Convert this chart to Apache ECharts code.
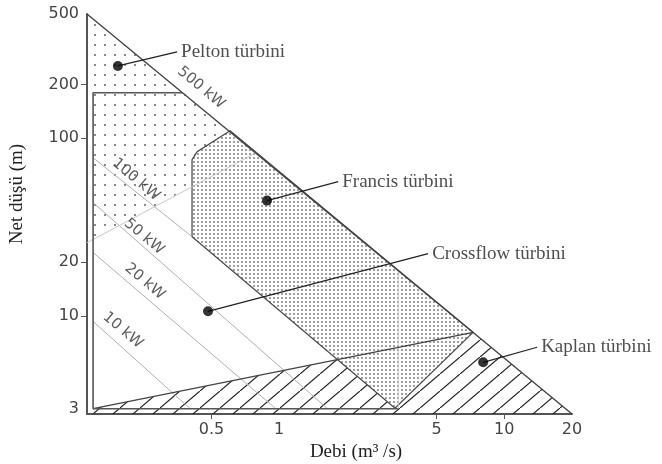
<!DOCTYPE html>
<html>
<head>
<meta charset="utf-8">
<title>Türbin seçim diyagramı</title>
<script src="https://cdn.jsdelivr.net/npm/echarts@6/dist/echarts.min.js"></script>
<style>
  html, body { margin: 0; padding: 0; background: #fff; }
  #chart { width: 662px; height: 464px; }
</style>
</head>
<body>
<div id="chart"></div>
<script>
// eksenler
const debiRange = [0.14, 20]
const dusuRange = [2.8, 500]
const debiTicks = [0.5, 1, 5, 10, 20]
const debiTickMarks = [0.5, 5, 10]
const dusuTicks = [3, 10, 20, 100, 200, 500]
const dusuTickMarks = [10, 20, 100, 200]

// bölgeler, noktalar [debi m3/s, düşü m]
const peltonArea = [[0.14, 500], [0.605, 110], [0.432, 83.9], [0.41, 75.6], [0.41, 53.3], [0.14, 25.8]]
const francisArea = [[0.605, 110], [7.27, 8.07], [3.27, 3.02], [0.41, 27.9], [0.41, 75.6], [0.432, 83.9]]
const kaplanArea = [[0.149, 3.0], [7.27, 8.07], [20, 2.8], [0.149, 2.8]]
const crossflowBox = [[3.38, 3.0], [0.149, 3.0], [0.149, 180], [0.374, 180]]
const crossflowRight = [[3.38, 18.0], [3.38, 3.0]]
const kaplanTop = [[0.149, 3.0], [7.27, 8.07]]
const peltonLower = [[0.14, 25.8], [0.79, 82.8]]

// güç çizgileri
const line500kW = [[0.14, 500], [20, 2.8]]
const line100kW = [[0.149, 77.6], [0.41, 27.9]]
const line50kW = [[0.149, 43.4], [1.63, 3.02]]
const line20kW = [[0.149, 22.7], [0.96, 3.02]]
const line10kW = [[0.149, 9.3], [0.40, 3.02]]
const powerLabels = ['500 kW', '100 kW', '50 kW', '20 kW', '10 kW']
const powerLabelAt = [[0.45, 192], [0.231, 58.4], [0.251, 27.9], [0.253, 15.6], [0.202, 8.28]]

// türbinler
const turbineNames = ['Pelton türbini', 'Francis türbini', 'Crossflow türbini', 'Kaplan türbini']
const turbinePoints = [[0.192, 255], [0.883, 44.5], [0.483, 10.6], [8.06, 5.47]]
const leaderEnds = [[0.352, 306], [1.83, 56.9], [4.59, 22.4], [14, 6.65]]

function makePattern (w, h, draw) {
  const c = document.createElement('canvas')
  c.width = w
  c.height = h
  draw(c.getContext('2d'))
  return { image: c, repeat: 'repeat' }
}

const hatch = makePattern(20, 17, ctx => {
  ctx.strokeStyle = '#222'
  ctx.lineWidth = 1.2
  ctx.beginPath()
  ctx.moveTo(-2, 18.7)
  ctx.lineTo(22, -1.7)
  ctx.stroke()
})
const sparseDots = makePattern(10, 10, ctx => {
  ctx.fillStyle = '#888'
  ctx.fillRect(4, 4, 2, 2)
})
const denseDots = makePattern(4, 4, ctx => {
  ctx.fillStyle = '#fff'
  ctx.fillRect(0, 0, 4, 4)
  ctx.fillStyle = '#a0a0a0'
  ctx.fillRect(1, 1, 2, 2)
})

function area (points, fill, stroke, z) {
  return {
    type: 'custom',
    silent: true,
    z,
    data: points,
    renderItem (params, api) {
      if (params.dataIndex !== 0) return null
      return {
        type: 'polygon',
        shape: { points: points.map(p => api.coord(p)) },
        style: { fill, stroke: stroke || null, lineWidth: 1.2 }
      }
    }
  }
}

function line (data, color, width, z) {
  return {
    type: 'line',
    data,
    z,
    silent: true,
    symbol: 'none',
    lineStyle: { color, width },
    emphasis: { disabled: true }
  }
}

const series = [
  area(kaplanArea, hatch, null, 1),
  area(peltonArea, sparseDots, null, 2),
  area(francisArea, denseDots, '#444', 3),
  line(line100kW, '#b0b0b0', 1, 4),
  line(line50kW, '#b0b0b0', 1, 4),
  line(line20kW, '#b0b0b0', 1, 4),
  line(line10kW, '#b0b0b0', 1, 4),
  line(peltonLower, '#c8c8c8', 1, 4),
  line(crossflowRight, '#c8c8c8', 1, 4),
  line(line500kW, '#444', 1.4, 5),
  line(kaplanTop, '#444', 1.3, 5),
  line(crossflowBox, '#555', 1.6, 5)
]
turbinePoints.forEach((p, i) => {
  series.push(line([p, leaderEnds[i]], '#222', 1.2, 6))
})
series.push({
  type: 'scatter',
  silent: true,
  z: 7,
  data: turbinePoints,
  symbolSize: 10,
  itemStyle: { color: '#000' }
})
series.push({
  type: 'scatter',
  silent: true,
  z: 7,
  symbolSize: 0,
  data: leaderEnds.map((p, i) => ({ value: p, name: turbineNames[i] })),
  label: {
    show: true,
    position: 'right',
    distance: 4,
    formatter: '{b}',
    fontFamily: 'Liberation Serif',
    fontSize: 19,
    color: '#222'
  }
})
series.push({
  type: 'scatter',
  silent: true,
  z: 7,
  symbolSize: 0,
  data: powerLabelAt.map((p, i) => ({ value: p, name: powerLabels[i] })),
  label: {
    show: true,
    position: 'inside',
    rotate: -40,
    formatter: '{b}',
    fontFamily: 'DejaVu Sans',
    fontSize: 15,
    color: '#333'
  }
})

const chart = echarts.init(document.getElementById('chart'), null, { renderer: 'canvas' })
chart.setOption({
  animation: false,
  backgroundColor: '#fff',
  grid: { left: 87, right: 90, top: 14, bottom: 50, containLabel: false, outerBoundsMode: 'none' },
  xAxis: {
    type: 'log',
    min: debiRange[0],
    max: debiRange[1],
    name: 'Debi (m³ /s)',
    nameLocation: 'middle',
    nameGap: 27,
    nameTextStyle: { fontFamily: 'Liberation Serif', fontSize: 19, color: '#222', padding: [0, 0, 0, 53] },
    axisLine: { show: true, lineStyle: { color: '#555', width: 2 } },
    axisTick: { show: true, customValues: debiTickMarks, length: 5, lineStyle: { color: '#555' } },
    axisLabel: {
      customValues: debiTicks,
      formatter: v => String(v),
      margin: 8,
      fontFamily: 'DejaVu Sans',
      fontSize: 16,
      color: '#444'
    },
    splitLine: { show: false },
    minorTick: { show: false }
  },
  yAxis: {
    type: 'log',
    min: dusuRange[0],
    max: dusuRange[1],
    name: 'Net düşü (m)',
    nameLocation: 'middle',
    nameRotate: 90,
    nameGap: 60,
    nameTextStyle: { fontFamily: 'Liberation Serif', fontSize: 19, color: '#222', padding: [0, 0, 0, 40] },
    axisLine: { show: true, lineStyle: { color: '#555', width: 2 } },
    axisTick: { show: true, customValues: dusuTickMarks, length: 6, lineStyle: { color: '#555' } },
    axisLabel: {
      customValues: dusuTicks,
      formatter: v => String(v),
      margin: 8,
      fontFamily: 'DejaVu Sans',
      fontSize: 16,
      color: '#444'
    },
    splitLine: { show: false },
    minorTick: { show: false }
  },
  series
})
</script>
</body>
</html>
